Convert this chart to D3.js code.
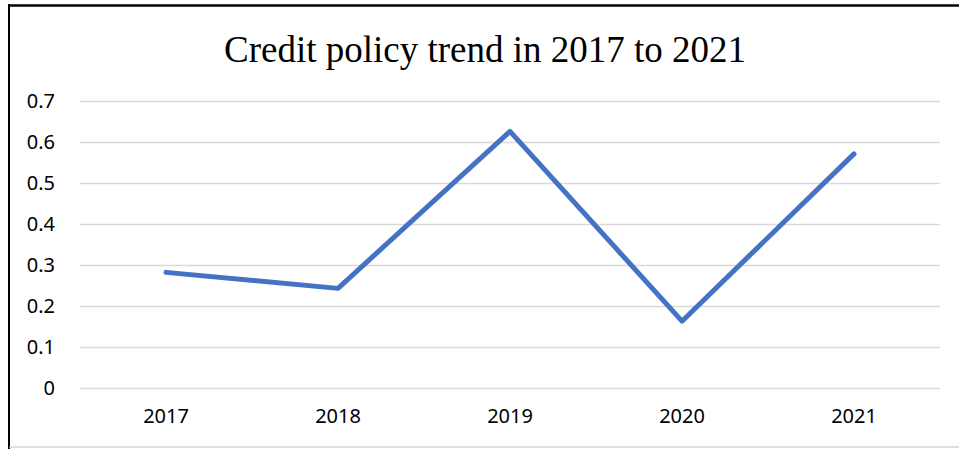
<!DOCTYPE html>
<html>
<head>
<meta charset="utf-8">
<script src="https://cdn.jsdelivr.net/npm/d3@7"></script>
<style>
  body { margin: 0; background: #fff; }
  .axis text { font-family: "Noto Sans", sans-serif; font-size: 20px; fill: #000; }
  .axis .domain { display: none; }
</style>
</head>
<body>
<div id="chart-area"></div>
<script>
// data
var years = ["2017", "2018", "2019", "2020", "2021"];
var values = [0.282, 0.243, 0.626, 0.163, 0.571];
var yTicks = [0, 0.1, 0.2, 0.3, 0.4, 0.5, 0.6, 0.7];
var title = "Credit policy trend in 2017 to 2021";

var W = 959, H = 449;
var plot = {left: 80, right: 940, top: 101, bottom: 388};

var svg = d3.select("#chart-area").append("svg").attr("width", W).attr("height", H);

// frame around the chart
svg.append("line").attr("x1", 8).attr("x2", W).attr("y1", 5.5).attr("y2", 5.5)
  .attr("stroke", "#000").attr("stroke-width", 2.5);
svg.append("line").attr("x1", 9).attr("x2", 9).attr("y1", 4).attr("y2", H)
  .attr("stroke", "#000").attr("stroke-width", 2);
svg.append("line").attr("x1", 9).attr("x2", W).attr("y1", 447).attr("y2", 447)
  .attr("stroke", "#bfbfbf").attr("stroke-width", 1);

var x = d3.scaleBand().domain(years).range([plot.left, plot.right]);
var y = d3.scaleLinear().domain([0, 0.7]).range([plot.bottom, plot.top]);

var yAxis = d3.axisLeft(y).tickValues(yTicks).tickSize(-(plot.right - plot.left))
  .tickPadding(25).tickFormat(function(d) { return d === 0 ? "0" : d3.format(".1f")(d); });
var yG = svg.append("g").attr("class", "axis").attr("transform", "translate(" + plot.left + ",0)").call(yAxis);
yG.selectAll(".tick line").attr("stroke", "#d9d9d9").attr("stroke-width", 1.5);

var xAxis = d3.axisBottom(x).tickSize(0).tickPadding(21);
var xG = svg.append("g").attr("class", "axis").attr("transform", "translate(0," + plot.bottom + ")").call(xAxis);

var line = d3.line()
  .x(function(d, i) { return x(years[i]) + x.bandwidth() / 2; })
  .y(function(d) { return y(d); });

svg.append("path").datum(values)
  .attr("d", line)
  .attr("fill", "none")
  .attr("stroke", "#4472C4")
  .attr("stroke-width", 5)
  .attr("stroke-linejoin", "round")
  .attr("stroke-linecap", "round");

svg.append("text").attr("x", 485).attr("y", 62)
  .attr("text-anchor", "middle")
  .attr("font-family", "'Liberation Serif', 'Times New Roman', serif")
  .attr("font-size", "37px").attr("fill", "#000")
  .text(title);
</script>
</body>
</html>
